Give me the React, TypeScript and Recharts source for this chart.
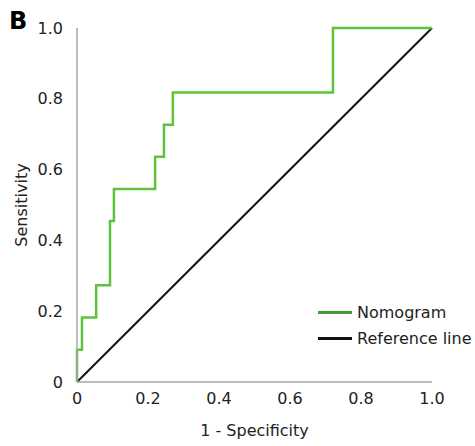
import React from "react";
import { LineChart, Line, XAxis, YAxis } from "recharts";

// ROC corner points (1 - specificity, sensitivity)
const fpr = [0, 0, 0.014, 0.054, 0.093, 0.104, 0.22, 0.245, 0.27, 0.721, 1];
const tpr = [0, 0.091, 0.182, 0.273, 0.455, 0.545, 0.636, 0.727, 0.818, 1, 1];
const refX = [0, 1];
const refY = [0, 1];
const ticks = [0, 0.2, 0.4, 0.6, 0.8, 1];
const legendItems = ["Nomogram", "Reference line"];
const legendColors = ["#3f9e36", "#111"];

const rocData = fpr.map((x, i) => ({ x, y: tpr[i] }));
const refData = refX.map((x, i) => ({ x, y: refY[i] }));

const FONT = "DejaVu Sans, Verdana, sans-serif";
const AXIS = "#a6a6a6";
const GREEN = "#5ec23c";
const fmt = (v: number) => (v === 0 ? "0" : v.toFixed(1));

function LegendBox() {
  return (
    <div
      style={{
        position: "absolute",
        left: 318,
        top: 299,
        fontFamily: FONT,
        fontSize: 16,
        color: "#222",
        whiteSpace: "nowrap",
      }}
    >
      {legendItems.map((label, i) => (
        <div key={label} style={{ display: "flex", alignItems: "center", height: 26 }}>
          <span style={{ width: 34, height: 3, background: legendColors[i], marginRight: 5 }} />
          <span>{label}</span>
        </div>
      ))}
    </div>
  );
}

export default function App() {
  return (
    <div style={{ position: "absolute", left: 0, top: 0, width: 475, height: 446, background: "#fff", overflow: "hidden" }}>
      <div style={{ position: "absolute", left: 9, top: 7, fontFamily: FONT, fontWeight: "bold", fontSize: 24 }}>B</div>
      <LineChart width={475} height={446} margin={{ top: 28, right: 43, left: 37, bottom: 34 }}>
        <XAxis
          dataKey="x"
          type="number"
          domain={[0, 1]}
          ticks={ticks}
          tickFormatter={fmt}
          tickLine={false}
          tickMargin={5}
          axisLine={{ stroke: AXIS, strokeWidth: 1.5 }}
          tick={{ fill: "#222", fontSize: 16, fontFamily: FONT }}
          height={30}
          label={{ value: "1 - Specificity", position: "insideBottom", offset: -24, fill: "#222", fontSize: 16, fontFamily: FONT }}
          allowDuplicatedCategory={false}
        />
        <YAxis
          dataKey="y"
          type="number"
          domain={[0, 1]}
          ticks={ticks}
          tickFormatter={fmt}
          tickLine={false}
          tickMargin={8}
          axisLine={{ stroke: AXIS, strokeWidth: 1.5 }}
          tick={{ fill: "#222", fontSize: 16, fontFamily: FONT }}
          width={40}
          label={{ value: "Sensitivity", angle: -90, position: "insideLeft", offset: -16, fill: "#222", fontSize: 16, fontFamily: FONT, style: { textAnchor: "middle" } }}
        />
        <Line data={refData} dataKey="y" type="linear" stroke="#111" strokeWidth={2} dot={false} isAnimationActive={false} />
        <Line data={rocData} dataKey="y" type="stepAfter" stroke={GREEN} strokeWidth={2.5} dot={false} isAnimationActive={false} />
      </LineChart>
      <LegendBox />
    </div>
  );
}
